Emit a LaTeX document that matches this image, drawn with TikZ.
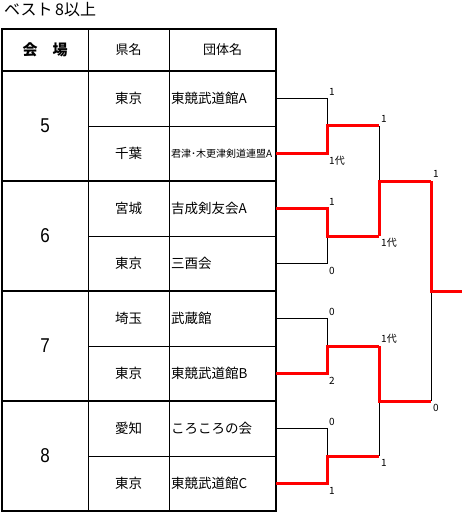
\documentclass[tikz,border=0pt]{standalone}
\usepackage{fontspec}
\setmainfont{Noto Sans CJK JP}
\newfontfamily\arialfont{Liberation Sans}

\begin{document}
\begin{tikzpicture}[x=1pt,y=-1pt,
  heavy/.style={line width=2pt},
  light/.style={line width=0.8pt},
  headcell/.style={font=\fontsize{13}{13}\selectfont},
  prefcell/.style={font=\fontsize{13.5}{13.5}\selectfont},
  teamcell/.style={anchor=west,inner sep=0pt,font=\fontsize{13.5}{13.5}\selectfont},
  venuecell/.style={xscale=0.85,font=\arialfont\fontsize{20}{20}\selectfont},
  score/.style={anchor=west,inner sep=0pt,font=\fontsize{10}{10}\selectfont},
  loser/.style={line width=0.8pt},
  winner/.style={line width=3pt,red}]

\useasboundingbox (0,0) rectangle (462,513);

% Title
\node[anchor=west,inner sep=0pt,font=\fontsize{16}{16}\selectfont] (title) at (4,10) {ベスト\,8以上};

% Table rules
\draw[light] (88,29) -- (88,511);
\draw[light] (169,29) -- (169,511);
\draw[light] (88,126) -- (276,126);
\draw[light] (88,236) -- (276,236);
\draw[light] (88,346) -- (276,346);
\draw[light] (88,456) -- (276,456);
\draw[heavy] (2,71) -- (276,71);
\draw[heavy] (2,181) -- (276,181);
\draw[heavy] (2,291) -- (276,291);
\draw[heavy] (2,401) -- (276,401);
\draw[heavy] (2,29) rectangle (276,511);

% Table header
\node[font=\bfseries\fontsize{15}{15}\selectfont] (hvenue) at (45,50) {会　場};
\node[headcell] (hpref) at (128.5,50) {県名};
\node[headcell] (hteam) at (222.5,50) {団体名};

% Venues
\node[venuecell] (venue5) at (45,126) {5};
\node[venuecell] (venue6) at (45,236) {6};
\node[venuecell] (venue7) at (45,346) {7};
\node[venuecell] (venue8) at (45,456) {8};

% Prefectures
\node[prefcell] (pref1) at (128.5,98.5) {東京};
\node[prefcell] (pref2) at (128.5,153.5) {千葉};
\node[prefcell] (pref3) at (128.5,208.5) {宮城};
\node[prefcell] (pref4) at (128.5,263.5) {東京};
\node[prefcell] (pref5) at (128.5,318.5) {埼玉};
\node[prefcell] (pref6) at (128.5,373.5) {東京};
\node[prefcell] (pref7) at (128.5,428.5) {愛知};
\node[prefcell] (pref8) at (128.5,483.5) {東京};

% Teams
\node[teamcell] (team1) at (171,98.5) {東競武道館A};
\node[teamcell,font=\fontsize{10}{10}\selectfont] (team2) at (171,153.5) {君津･木更津剣道連盟A};
\node[teamcell] (team3) at (171,208.5) {吉成剣友会A};
\node[teamcell] (team4) at (171,263.5) {三酉会};
\node[teamcell] (team5) at (171,318.5) {武蔵館};
\node[teamcell] (team6) at (171,373.5) {東競武道館B};
\node[teamcell] (team7) at (171,428.5) {ころころの会};
\node[teamcell] (team8) at (171,483.5) {東競武道館C};

% Bracket points
\coordinate (e1) at (276,98.5);
\coordinate (e2) at (276,153.5);
\coordinate (e3) at (276,208.5);
\coordinate (e4) at (276,263.5);
\coordinate (e5) at (276,318.5);
\coordinate (e6) at (276,373.5);
\coordinate (e7) at (276,428.5);
\coordinate (e8) at (276,483.5);
\coordinate (m1) at (327,126);
\coordinate (m2) at (327,236);
\coordinate (m3) at (327,346);
\coordinate (m4) at (327,456);
\coordinate (a1) at (379,126);
\coordinate (a2) at (379,236);
\coordinate (a3) at (379,346);
\coordinate (a4) at (379,456);
\coordinate (s1) at (379,181);
\coordinate (s2) at (379,401);
\coordinate (b1) at (431,181);
\coordinate (b2) at (431,401);
\coordinate (fin) at (431,291);
\coordinate (champ) at (462,291);

% Losing sides
\draw[loser] (e1) -| (m1);
\draw[loser] (e4) -| (m2);
\draw[loser] (e5) -| (m3);
\draw[loser] (e7) -| (m4);
\draw[loser] (a1) -- (s1);
\draw[loser] (a4) -- (s2);
\draw[loser] (b2) -- (fin);

% Winning sides
\draw[winner] (e2) -| (m1) -- (a1);
\draw[winner] (e3) -| (m2) -- (a2);
\draw[winner] (e6) -| (m3) -- (a3);
\draw[winner] (e8) -| (m4) -- (a4);
\draw[winner] (a2) -- (s1) -- (b1);
\draw[winner] (a3) -- (s2) -- (b2);
\draw[winner] (b1) -- (fin) -- (champ);

% Scores, first round
\node[score] (sc1a) at (329,92) {1};
\node[score] (sc1b) at (329,161) {1代};
\node[score] (sc2a) at (329,202) {1};
\node[score] (sc2b) at (329,271) {0};
\node[score] (sc3a) at (329,312) {0};
\node[score] (sc3b) at (329,381) {2};
\node[score] (sc4a) at (329,422) {0};
\node[score] (sc4b) at (329,491) {1};

% Scores, semifinals
\node[score] (sc5a) at (381,119) {1};
\node[score] (sc5b) at (381,243) {1代};
\node[score] (sc6a) at (381,339) {1代};
\node[score] (sc6b) at (381,463) {1};

% Scores, final
\node[score] (sc7a) at (433,174) {1};
\node[score] (sc7b) at (433,408) {0};

\end{tikzpicture}
\end{document}
